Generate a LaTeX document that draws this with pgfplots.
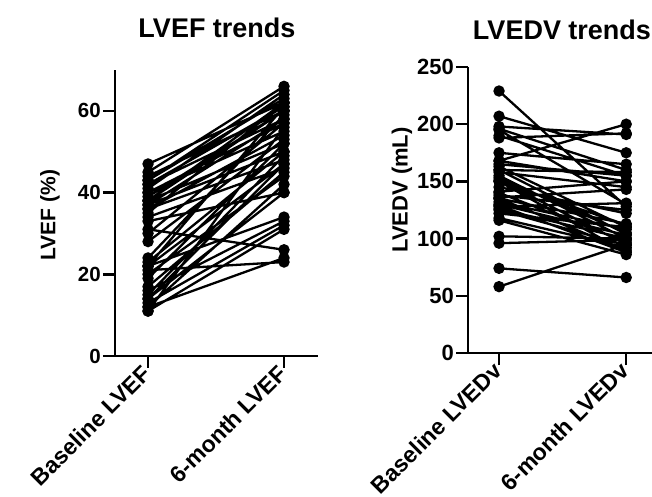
\documentclass[border=0pt]{standalone}
\usepackage{pgfplots}
\pgfplotsset{compat=1.18}
\usepackage{fontspec}
\setmainfont{Liberation Sans}
\begin{document}
\begin{tikzpicture}[x=1pt,y=1pt]
\useasboundingbox (0pt,0pt) rectangle (652pt,497pt);
\pgfplotsset{
  panel/.style={
    scale only axis, axis lines*=left,
    axis line style={line width=2.5pt, -},
    xtick={0,1}, tick style={line width=2.5pt, black},
    major tick length=12pt, tick align=outside,
    ymin=0, ytick pos=left, xtick pos=bottom,
    /pgf/number format/assume math mode=true,
    xticklabel style={rotate=45, anchor=east, inner sep=2pt,
      font=\fontsize{23}{26}\selectfont\bfseries},
    clip=false,
  },
  pair/.style={black, line width=2.3pt, mark=*, mark size=4.5pt, empty line=jump},
}
% ---- LVEF ----
\begin{axis}[panel, at={(115pt,141pt)}, anchor=south west,
  width=203pt, height=286pt, xmin=-0.243, xmax=1.25,
  ymax=70, ytick={0,20,40,60},
  yticklabel style={font=\fontsize{20.5}{24}\selectfont\bfseries, inner sep=2pt},
  xticklabels={Baseline LVEF, 6-month LVEF}]
\addplot[pair] table {
0 47
1 62

0 45
1 66

0 44
1 60

0 43
1 63

0 42
1 58

0 42
1 61

0 41
1 64

0 40
1 55

0 39
1 60

0 38
1 52

0 38
1 62

0 37
1 50

0 37
1 58

0 36
1 48

0 35
1 62

0 34
1 46

0 33
1 40

0 31
1 26

0 30
1 57

0 28
1 53

0 24
1 59

0 23
1 50

0 22
1 47

0 22
1 34

0 21
1 23

0 20
1 44

0 19
1 52

0 17
1 45

0 16
1 33

0 15
1 49

0 14
1 40

0 13
1 32

0 12
1 24

0 12
1 42

0 11
1 31

0 11
1 56

0 38
1 60

0 40
1 57

0 43
1 65

0 36
1 54

0 22
1 61

0 14
1 47
};
\end{axis}
% ---- LVEDV ----
\begin{axis}[panel, at={(468pt,144pt)}, anchor=south west,
  width=190pt, height=286pt, xmin=-0.244, xmax=1.25,
  ymax=250, ytick={0,50,100,150,200,250},
  yticklabel style={font=\fontsize{22}{25}\selectfont\bfseries, inner sep=2pt},
  xticklabels={Baseline LVEDv, 6-month LVEDv}]
\addplot[pair] table {
0 229
1 128

0 207
1 175

0 198
1 191

0 196
1 160

0 195
1 130

0 190
1 155

0 188
1 192

0 175
1 165

0 168
1 200

0 168
1 150

0 165
1 155

0 163
1 110

0 160
1 158

0 158
1 145

0 155
1 100

0 153
1 105

0 151
1 95

0 150
1 112

0 141
1 150

0 140
1 97

0 138
1 125

0 136
1 143

0 135
1 90

0 132
1 108

0 130
1 103

0 129
1 88

0 128
1 131

0 126
1 100

0 125
1 94

0 122
1 110

0 118
1 92

0 116
1 86

0 102
1 100

0 96
1 99

0 74
1 66

0 58
1 95

0 145
1 122

0 135
1 113

0 150
1 88

0 160
1 104
};
\end{axis}
\node[font=\fontsize{27}{30}\selectfont\bfseries] at (217pt,469pt) {LVEF trends};
\node[font=\fontsize{27}{30}\selectfont\bfseries] at (562pt,467pt) {LVEDV trends};
\node[font=\fontsize{21}{24}\selectfont\bfseries, rotate=90] at (50pt,282pt) {LVEF (\%)};
\node[font=\fontsize{22}{25}\selectfont\bfseries, rotate=90] at (402pt,307pt) {LVEDV (mL)};
\end{tikzpicture}
\end{document}
